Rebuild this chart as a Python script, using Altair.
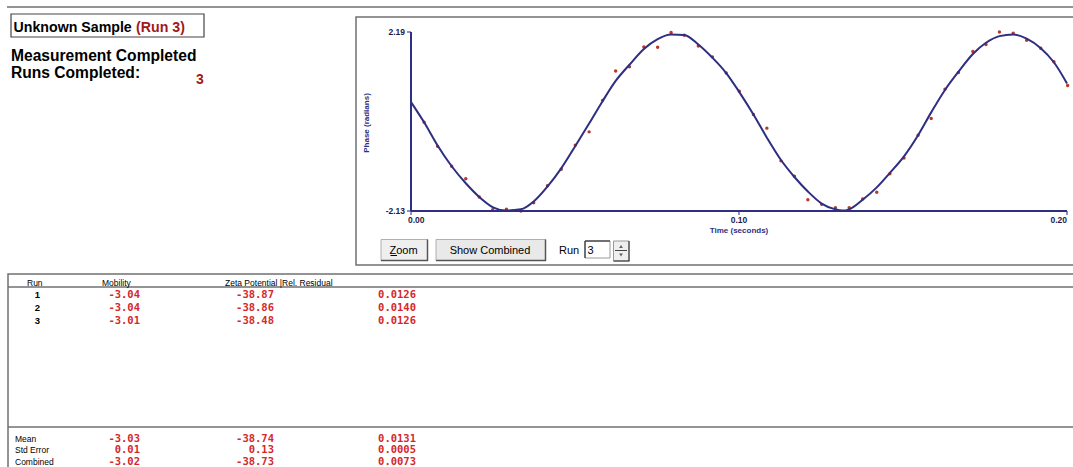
import altair as alt
import pandas as pd

# ---------------- data ----------------
dot_t = [0.0040, 0.0081, 0.0124, 0.0167, 0.0208, 0.0249, 0.0291, 0.0335, 0.0374, 0.0416,
         0.0458, 0.0501, 0.0543, 0.0584, 0.0624, 0.0666, 0.0710, 0.0752, 0.0793, 0.0833,
         0.0876, 0.0919, 0.0961, 0.1001, 0.1044, 0.1085, 0.1128, 0.1169, 0.1210, 0.1252,
         0.1294, 0.1336, 0.1377, 0.1420, 0.1460, 0.1503, 0.1546, 0.1586, 0.1628, 0.1669,
         0.1713, 0.1753, 0.1794, 0.1836, 0.1877, 0.1920, 0.1960, 0.2002]
dot_phase = [0.01, -0.57, -1.05, -1.35, -1.79, -2.10, -2.09, -2.13, -1.93, -1.52,
             -1.12, -0.54, -0.22, 0.54, 1.25, 1.35, 1.83, 1.82, 2.18, 2.11,
             1.85, 1.59, 1.20, 0.76, 0.20, -0.13, -0.92, -1.29, -1.86, -1.97,
             -2.05, -2.05, -1.84, -1.68, -1.23, -0.85, -0.30, 0.10, 0.81, 1.21,
             1.72, 1.89, 2.19, 2.16, 1.99, 1.80, 1.47, 0.90]

curve_t = [0.0, 0.0040, 0.0081, 0.0124, 0.0167, 0.0208, 0.0250, 0.0290, 0.0335, 0.0374,
           0.0416, 0.0458, 0.0501, 0.0543, 0.0584, 0.0624, 0.0666, 0.0710, 0.0752, 0.0793,
           0.0833, 0.0876, 0.0919, 0.0961, 0.1001, 0.1044, 0.1085, 0.1128, 0.1169, 0.1210,
           0.1252, 0.1294, 0.1315, 0.1336, 0.1377, 0.1420, 0.1460, 0.1503, 0.1546, 0.1586,
           0.1628, 0.1669, 0.1713, 0.1753, 0.1794, 0.1836, 0.1877, 0.1920, 0.1960, 0.2000]
curve_phase = [0.50, 0.01, -0.55, -1.05, -1.46, -1.79, -2.04, -2.12, -2.09, -1.90,
               -1.54, -1.10, -0.56, -0.02, 0.52, 1.01, 1.40, 1.78, 2.02, 2.13,
               2.12, 1.89, 1.57, 1.20, 0.74, 0.20, -0.36, -0.90, -1.31, -1.66,
               -1.95, -2.09, -2.12, -2.09, -1.86, -1.56, -1.21, -0.81, -0.30, 0.25,
               0.79, 1.23, 1.66, 1.93, 2.09, 2.13, 2.03, 1.80, 1.46, 0.95]

x_ticks = [0.0, 0.10, 0.20]
x_tick_labels = ["0.00", "0.10", "0.20"]
y_ticks = [-2.13, 2.19]
y_tick_labels = ["-2.13", "2.19"]

runs = ["1", "2", "3"]
mobility = ["-3.04", "-3.04", "-3.01"]
zeta = ["-38.87", "-38.86", "-38.48"]
residual = ["0.0126", "0.0140", "0.0126"]

stat_labels = ["Mean", "Std Error", "Combined"]
stat_mobility = ["-3.03", "0.01", "-3.02"]
stat_zeta = ["-38.74", "0.13", "-38.73"]
stat_residual = ["0.0131", "0.0005", "0.0073"]

headers = ["Run", "Mobility", "Zeta Potential |Rel. Residual"]

# ---------------- styling ----------------
SANS = "Liberation Sans"
MONO = "DejaVu Sans Mono"
NAVY = "#2e2e82"
GRAY = "#707070"
DRED = "#a31818"
RED = "#d4282a"
LAB = "#1c1c4c"

one = pd.DataFrame({"k": [0]})


def rect(x, y, x2, y2, fill="white", stroke=GRAY, sw=1.5):
    return alt.Chart(one).mark_rect(fill=fill, stroke=stroke, strokeWidth=sw).encode(
        x=alt.value(x), x2=alt.value(x2), y=alt.value(y), y2=alt.value(y2))


def rule(x, y, x2, y2, color=GRAY, sw=1.5):
    return alt.Chart(one).mark_rule(color=color, strokeWidth=sw).encode(
        x=alt.value(x), x2=alt.value(x2), y=alt.value(y), y2=alt.value(y2))


def label(txt, x, y, size=11, color="black", weight="normal", align="left",
          font=SANS, angle=0, baseline="middle"):
    return alt.Chart(one).mark_text(text=txt, fontSize=size, color=color, fontWeight=weight,
                                    align=align, font=font, angle=angle,
                                    baseline=baseline).encode(x=alt.value(x), y=alt.value(y))


# ---------------- plot (scales place it inside the panel) ----------------
XS = alt.Scale(domain=[0, 0.2], range=[411, 1067], nice=False, zero=False)
YS = alt.Scale(domain=[-2.13, 2.19], range=[211, 32], nice=False, zero=False)


def X(f):
    return alt.X(f, scale=XS, axis=None)


def Y(f):
    return alt.Y(f, scale=YS, axis=None)


dots_df = pd.DataFrame({"t": dot_t, "phase": dot_phase})
curve_df = pd.DataFrame({"t": curve_t, "phase": curve_phase})

dots = alt.Chart(dots_df).mark_circle(size=12, color="#b8382a", opacity=1).encode(
    x=X("t:Q"), y=Y("phase:Q"))
curve = alt.Chart(curve_df).mark_line(color=NAVY, strokeWidth=2, interpolate="monotone").encode(
    x=X("t:Q"), y=Y("phase:Q"))

xdom_df = pd.DataFrame({"t": [x_ticks[0]], "t2": [x_ticks[-1]], "phase": [y_ticks[0]]})
ydom_df = pd.DataFrame({"t": [x_ticks[0]], "phase": [y_ticks[0]], "phase2": [y_ticks[-1]]})
x_axis_line = alt.Chart(xdom_df).mark_rule(color=NAVY, strokeWidth=2).encode(
    x=X("t:Q"), x2="t2:Q", y=Y("phase:Q"))
y_axis_line = alt.Chart(ydom_df).mark_rule(color=NAVY, strokeWidth=2).encode(
    x=X("t:Q"), y=Y("phase:Q"), y2="phase2:Q")

xt_df = pd.DataFrame({"t": x_ticks, "phase": [y_ticks[0]] * len(x_ticks), "lab": x_tick_labels})
yt_df = pd.DataFrame({"t": [x_ticks[0]] * len(y_ticks), "phase": y_ticks, "lab": y_tick_labels})

x_tick_marks = alt.Chart(xt_df).mark_tick(orient="vertical", size=4, thickness=1.5, color=NAVY,
                                          yOffset=2).encode(x=X("t:Q"), y=Y("phase:Q"))
y_tick_marks = alt.Chart(yt_df).mark_tick(orient="horizontal", size=4, thickness=1.5, color=NAVY,
                                          xOffset=-2).encode(x=X("t:Q"), y=Y("phase:Q"))

x_label_layers = []
for i, al in enumerate(["left", "center", "right"]):
    x_label_layers.append(
        alt.Chart(xt_df.iloc[[i]]).mark_text(align=al, baseline="middle", dy=9,
                                             dx=(-3 if al == "left" else 0),
                                             font=SANS, fontSize=8.5, fontWeight="bold",
                                             color=LAB).encode(
            x=X("t:Q"), y=Y("phase:Q"), text="lab:N"))
y_labels = alt.Chart(yt_df).mark_text(align="right", baseline="middle", dx=-6, font=SANS,
                                      fontSize=8.5, fontWeight="bold", color=LAB).encode(
    x=X("t:Q"), y=Y("phase:Q"), text="lab:N")

plot = alt.layer(dots, curve, x_axis_line, y_axis_line, x_tick_marks, y_tick_marks,
                 *x_label_layers, y_labels)

# ---------------- tables ----------------
top_df = pd.DataFrame({"row": [1, 2, 3], "run": runs, "mob": mobility, "zeta": zeta,
                       "res": residual})
ytop = alt.Y("row:Q", scale=alt.Scale(domain=[1, 3], range=[294.5, 321]), axis=None)


def tcol(df, yenc_, field, x, color=RED, font=MONO, size=10.5, weight="bold", align="right"):
    return alt.Chart(df).mark_text(align=align, baseline="middle", font=font, fontSize=size,
                                   color=color, fontWeight=weight).encode(
        x=alt.value(x), y=yenc_, text=f"{field}:N")


table_top = alt.layer(
    tcol(top_df, ytop, "run", 40, color="black", font=SANS, size=9.5, weight="bold"),
    tcol(top_df, ytop, "mob", 140),
    tcol(top_df, ytop, "zeta", 274),
    tcol(top_df, ytop, "res", 416),
)

bot_df = pd.DataFrame({"row": [1, 2, 3], "lab": stat_labels, "mob": stat_mobility,
                       "zeta": stat_zeta, "res": stat_residual})
ybot = alt.Y("row:Q", scale=alt.Scale(domain=[1, 3], range=[438.5, 461.5]), axis=None)
table_bot = alt.layer(
    tcol(bot_df, ybot, "lab", 15, color="black", font=SANS, size=8.5, weight="normal",
         align="left"),
    tcol(bot_df, ybot, "mob", 140),
    tcol(bot_df, ybot, "zeta", 274),
    tcol(bot_df, ybot, "res", 416),
)

# ---------------- UI chrome ----------------
ui_back = [
    rule(7, 7, 1073, 7, sw=1.5),
    rect(356, 17, 1090, 265),
    rect(8, 274, 1090, 490),
    rule(8, 287, 1073, 287),
    rule(8, 427, 1073, 427),
    rect(11, 14, 204, 37, fill="white", stroke="#444", sw=1.2),
    # buttons
    rect(381, 239.5, 427.5, 260.5, fill="#efefef", stroke="#b0b0b0", sw=1),
    rule(427.5, 239.5, 427.5, 261, color="#555", sw=1.5),
    rule(381, 260.5, 428, 260.5, color="#555", sw=1.5),
    rect(436, 239.5, 545.5, 260.5, fill="#e9e9e9", stroke="#b0b0b0", sw=1),
    rule(545.5, 239.5, 545.5, 261, color="#555", sw=1.5),
    rule(436, 260.5, 546, 260.5, color="#555", sw=1.5),
    rect(585, 241, 610, 258, fill="white", stroke="#999", sw=1),
    rule(585, 241, 610, 241, color="#333", sw=1.2),
    rule(585, 241, 585, 258, color="#333", sw=1.2),
    rect(613.5, 241, 629, 261, fill="#efefef", stroke="#999", sw=1),
    rule(629, 241, 629, 261, color="#444", sw=1.2),
    rule(613.5, 261, 629.5, 261, color="#444", sw=1.2),
    rule(615, 250.5, 627, 250.5, color="#444", sw=1),
]

arrows = [
    alt.Chart(one).mark_point(shape="triangle-up", filled=True, size=14, color="#222").encode(
        x=alt.value(621), y=alt.value(246.5)),
    alt.Chart(one).mark_point(shape="triangle-down", filled=True, size=14, color="#222").encode(
        x=alt.value(621), y=alt.value(255)),
]

texts = [
    label("Unknown Sample", 13.5, 32, size=14.2, weight="bold", baseline="alphabetic"),
    label("(Run 3)", 136, 32, size=14.2, weight="bold", color=DRED, baseline="alphabetic"),
    label("Measurement Completed", 11, 61, size=15.6, weight="bold", baseline="alphabetic"),
    label("Runs Completed:", 11, 78, size=15.6, weight="bold", baseline="alphabetic"),
    label("3", 196, 84, size=14, weight="bold", color=DRED, baseline="alphabetic"),
    label("Phase (radians)", 367, 123, size=8, weight="bold", color=NAVY, angle=270,
          align="center"),
    label("Time (seconds)", 739, 231, size=8, weight="bold", color=NAVY, align="center"),
    label("Zoom", 403.5, 253.5, size=11, baseline="alphabetic", align="center"),
    rule(390.5, 255.5, 397, 255.5, color="black", sw=1),
    label("Show Combined", 490, 253.5, size=11, baseline="alphabetic", align="center"),
    label("Run", 559, 253.5, size=11, baseline="alphabetic"),
    label("3", 587.5, 253.5, size=11, baseline="alphabetic"),
    label(headers[0], 27, 283, size=8.5),
    label(headers[1], 102, 283, size=8.5),
    label(headers[2], 225, 283, size=8.5),
]

chart = alt.layer(
    *ui_back, *arrows, plot, table_top, table_bot, *texts
).resolve_scale(y="independent").properties(
    width=1073, height=467, padding=0, autosize="none", background="white"
).configure_view(stroke=None)

chart.save("out.html", embed_options={"renderer": "svg", "actions": False})
